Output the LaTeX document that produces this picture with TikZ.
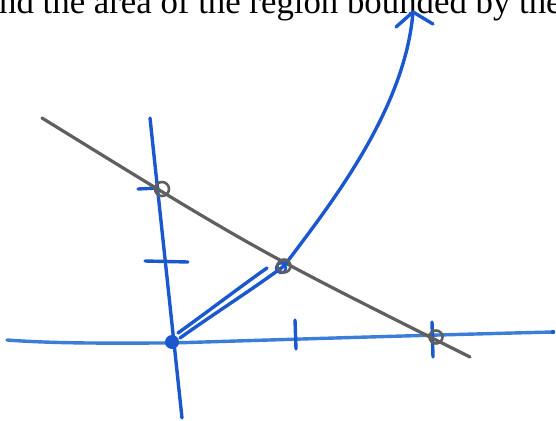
\documentclass[tikz,border=0pt]{standalone}
\usepackage{fontspec}
\setmainfont{Liberation Serif}
\definecolor{penblue}{RGB}{28,88,205}
\definecolor{lightblue}{RGB}{60,125,215}
\definecolor{pencil}{RGB}{95,95,95}
\begin{document}
\begin{tikzpicture}[x=1pt,y=-1pt,
  ink/.style={draw=penblue,line width=3.4pt,line cap=round,line join=round},
  axisx/.style={draw=lightblue,line width=3.4pt,line cap=round},
  grey/.style={draw=pencil,line width=3.2pt,line cap=round},
  ring/.style={draw=pencil,line width=2.6pt}]
\useasboundingbox (0,0) rectangle (556,420);
\clip (0,0) rectangle (556,420);
\fill[white] (0,0) rectangle (556,420);
% heading text
\node[anchor=base west,inner sep=0pt,font=\fontsize{34.8}{36}\selectfont] (title) at (-1,14) {nd the area of the region bounded by the};
% coordinates
\coordinate (O) at (172,342);
\coordinate (P) at (284,266);
\coordinate (Y) at (162,189);
\coordinate (X) at (436,337);
\coordinate (tip) at (413,12);
% x-axis
\draw[axisx] (7,340) .. controls (60,344) and (120,343) .. (172,343)
   .. controls (300,339) and (430,335) .. (553,332);
\fill[penblue] (553,332) circle (2.2pt);
% y-axis
\draw[ink] (150,118) -- (182,418);
% ticks
\draw[ink] (145,261) -- (188,262);
\draw[ink] (138,189) -- (158,188);
\draw[ink] (295,320) -- (296,349);
\draw[ink] (432,322) -- (433,357);
% grey line
\draw[grey] (42,118) .. controls (256,250) .. (470,357);
% curve
\draw[ink] (178,333) .. controls (210,310) and (240,287) .. (267,268);
\draw[ink] (180,338) .. controls (215,313) and (250,291) .. (P);
\draw[ink] (P) .. controls (330,205) and (405,110) .. (tip);
\draw[ink] (396,27) -- (tip) -- (433,24);
% points
\fill[penblue] (O) circle (7pt);
\draw[ring] (Y) circle (7pt);
\draw[ink,line width=2.6pt] (281,268) circle (5pt);
\draw[ring] (P) circle (6.5pt);
\draw[ring] (X) circle (6.5pt);
\end{tikzpicture}
\end{document}
